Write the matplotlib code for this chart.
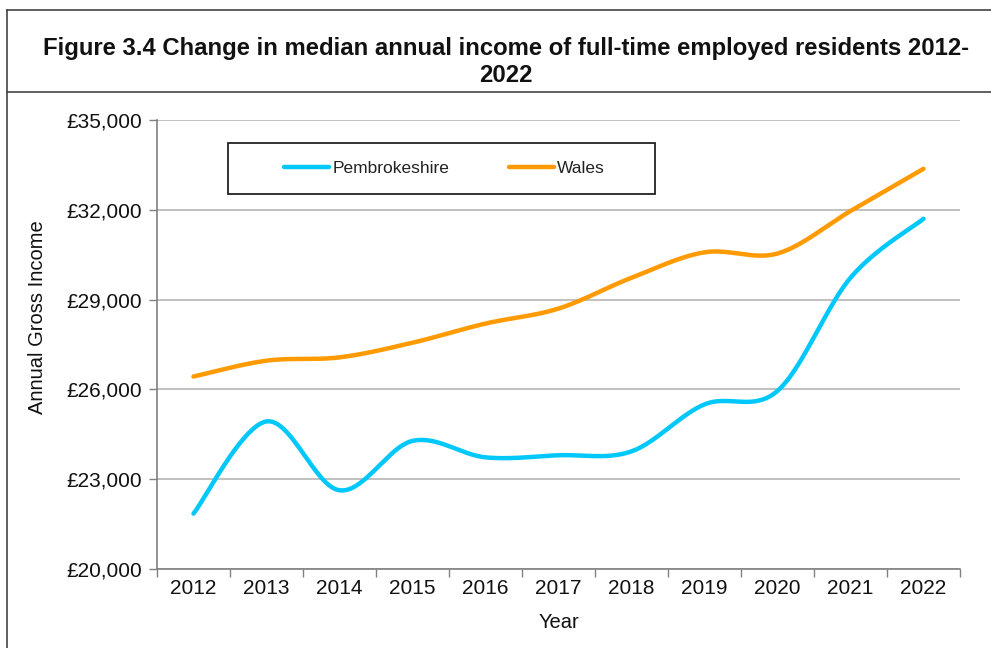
import numpy as np
import matplotlib
matplotlib.use("Agg")
import matplotlib.pyplot as plt
from matplotlib.lines import Line2D
from matplotlib.patches import Rectangle
from matplotlib.ticker import FuncFormatter, FixedLocator

years = ["2012", "2013", "2014", "2015", "2016", "2017", "2018", "2019", "2020", "2021", "2022"]
pembrokeshire = [21850, 24930, 22630, 24280, 23730, 23800, 23930, 25500, 25950, 29730, 31700]
wales = [26430, 26960, 27070, 27560, 28200, 28700, 29730, 30580, 30540, 31960, 33370]
y_ticks = [20000, 23000, 26000, 29000, 32000, 35000]

title = "Figure 3.4 Change in median annual income of full-time employed residents 2012-\n2022"
y_label = "Annual Gross Income"
x_label = "Year"

plt.rcParams["font.family"] = ["Liberation Sans", "DejaVu Sans"]

W, H = 991, 648
fig = plt.figure(figsize=(W / 100, H / 100), dpi=100)


def px(x0, y0, x1, y1):
    return [x0 / W, 1 - y1 / H, (x1 - x0) / W, (y1 - y0) / H]


ax = fig.add_axes(px(157, 120, 960, 569))


def smooth(y, n=40):
    """Excel-style smoothed line (Catmull-Rom Bezier through the points)."""
    x = np.arange(len(y), dtype=float)
    y = np.asarray(y, dtype=float)
    P = np.column_stack([x, y])
    Pe = np.vstack([P[0], P, P[-1]])
    out = []
    t = np.linspace(0, 1, n)[:, None]
    for i in range(len(P) - 1):
        p0, p1, p2, p3 = Pe[i], Pe[i + 1], Pe[i + 2], Pe[i + 3]
        c1 = p1 + (p2 - p0) / 6
        c2 = p2 - (p3 - p1) / 6
        seg = ((1 - t) ** 3) * p1 + 3 * ((1 - t) ** 2) * t * c1 + 3 * (1 - t) * t ** 2 * c2 + t ** 3 * p2
        out.append(seg if i == 0 else seg[1:])
    s = np.vstack(out)
    return s[:, 0], s[:, 1]


cyan = "#00C8FA"
orange = "#FF9A00"
xs, ys = smooth(pembrokeshire)
ax.plot(xs, ys, color=cyan, lw=3.2, solid_capstyle="round", label="Pembrokeshire", zorder=3)
xs, ys = smooth(wales)
ax.plot(xs, ys, color=orange, lw=3.2, solid_capstyle="round", label="Wales", zorder=3)

ax.set_xlim(-0.5, len(years) - 0.5)
ax.set_ylim(y_ticks[0], y_ticks[-1])
ax.set_yticks(y_ticks)
ax.yaxis.set_major_formatter(FuncFormatter(lambda v, p: "£{:,.0f}".format(v)))
ax.grid(axis="y", color="#C0C0C0", lw=1.4)
ax.set_axisbelow(True)

ax.xaxis.set_major_locator(FixedLocator(np.arange(-0.5, len(years), 1.0)))
ax.xaxis.set_major_formatter(FuncFormatter(lambda v, p: ""))
ax.set_xticks(np.arange(len(years)), minor=True)
ax.set_xticklabels(years, minor=True)
ax.tick_params(axis="x", which="major", length=6, width=1, color="#808080", direction="out")
ax.tick_params(axis="x", which="minor", length=0, labelsize=15, pad=7, labelcolor="#111111")
ax.tick_params(axis="y", length=6, width=1, color="#808080", labelsize=15, pad=5, labelcolor="#111111")

for s in ["top", "right"]:
    ax.spines[s].set_visible(False)
for s in ["left", "bottom"]:
    ax.spines[s].set_color("#808080")
    ax.spines[s].set_linewidth(1.2)

ax.set_ylabel(y_label, fontsize=14.5, color="#111111")
ax.yaxis.set_label_coords((47 - 157) / 803, (569 - 317) / 449)
ax.set_xlabel(x_label, fontsize=14.5, color="#111111", labelpad=11)

# legend box
lx0, lx1, ly0, ly1 = 228, 655, 143, 194
ax_left, ax_right, ax_top, ax_bot = 157, 960, 120, 569
def to_ax(xp, yp):
    return (xp - ax_left) / (ax_right - ax_left), (ax_bot - yp) / (ax_bot - ax_top)
a0 = to_ax(lx0, ly1)
a1 = to_ax(lx1, ly0)
ax.add_patch(Rectangle(a0, a1[0] - a0[0], a1[1] - a0[1], transform=ax.transAxes,
                       fill=True, facecolor="white", edgecolor="#222222", lw=1.3, zorder=5))
cx, cy = to_ax((lx0 + lx1) / 2 + 3, (ly0 + ly1) / 2)
leg = ax.legend(loc="center", bbox_to_anchor=(cx, cy), ncol=2, frameon=False,
                fontsize=12.5, handlelength=2.6, handletextpad=0.2, columnspacing=3.4)
leg.set_zorder(6)
for t in leg.get_texts():
    t.set_color("#222222")

# outer frame and title separator
fig.add_artist(Line2D([7 / W, 7 / W], [0, 1 - 10 / H], transform=fig.transFigure, color="#444444", lw=1.2))
fig.add_artist(Line2D([7 / W, 1], [1 - 10 / H, 1 - 10 / H], transform=fig.transFigure, color="#444444", lw=1.2))
fig.add_artist(Line2D([7 / W, 1], [1 - 92 / H, 1 - 92 / H], transform=fig.transFigure, color="#444444", lw=1.2))

fig.text(506 / W, 1 - 62 / H, title, ha="center", va="center", fontsize=17.2, fontweight="bold",
         color="#111111", linespacing=1.2)

fig.savefig("out.png", dpi=100)
